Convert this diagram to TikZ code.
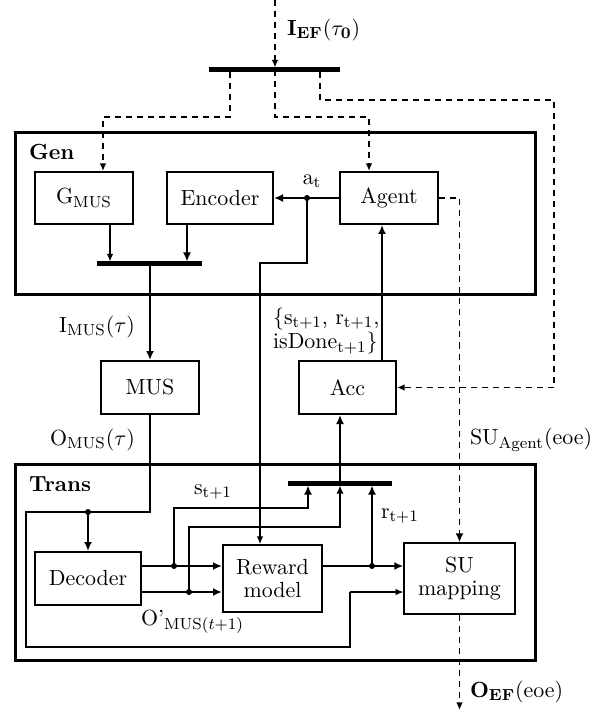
\documentclass[tikz,border=0pt]{standalone}
\usetikzlibrary{arrows.meta,calc}
\newcommand{\fsz}{\fontsize{10.95pt}{13.4pt}\selectfont}
\begin{document}
\begin{tikzpicture}[x=0.5pt,y=-0.5pt,
  every node/.style={font=\fsz},
  box/.style={draw,line width=1pt,inner sep=0pt,align=center},
  lightbox/.style={draw,line width=0.7pt,inner sep=0pt,align=center},
  frame/.style={draw,line width=1.5pt,inner sep=0pt},
  bar/.style={line width=2.5pt},
  thk/.style={line width=1pt,-{Latex[length=4.5pt,width=4pt]}},
  thn/.style={line width=0.65pt,-{Latex[length=3.8pt,width=3.3pt]}},
  plainthk/.style={line width=1pt},
  plainthn/.style={line width=0.65pt},
  dsh/.style={line width=0.75pt,dash pattern=on 3pt off 2.5pt,-{Latex[length=3.8pt,width=3.3pt]}},
  dshthk/.style={line width=0.95pt,dash pattern=on 3pt off 2.5pt,-{Latex[length=4.5pt,width=4pt]}},
  jdot/.style={circle,fill,inner sep=0pt,minimum size=3pt}]
\useasboundingbox (0,0) rectangle (603,710);

% frames
\node[frame,minimum width=260pt,minimum height=81pt] (gen) at (275,214) {};
\node[frame,minimum width=260pt,minimum height=98pt] (trans) at (275,562) {};
\node[anchor=west,font=\fsz\bfseries] (genlbl) at (22,152) {Gen};
\node[anchor=west,font=\fsz\bfseries] (translbl) at (22,484) {Trans};

% boxes
\node[box,minimum width=49pt,minimum height=26pt] (gmus) at (84,198) {$\mathrm{G}_{\mathrm{MUS}}$};
\node[box,minimum width=53pt,minimum height=26pt] (encoder) at (220,198) {Encoder};
\node[box,minimum width=49pt,minimum height=26pt] (agent) at (389,198) {Agent};
\node[box,minimum width=49pt,minimum height=26.5pt] (mus) at (150,387.5) {MUS};
\node[box,minimum width=48.5pt,minimum height=26.5pt] (acc) at (347.5,387.5) {Acc};
\node[box,minimum width=53pt,minimum height=26.5pt] (decoder) at (88,578.5) {Decoder};
\node[box,minimum width=49.5pt,minimum height=33.5pt] (reward) at (272.5,578.5) {Reward\\[-2pt]model};
\node[lightbox,minimum width=55.5pt,minimum height=35.5pt] (su) at (459.5,578.5) {SU\\[-2pt]mapping};

% top input
\coordinate (in) at (275,0);
\coordinate (tbl) at (209,70);
\coordinate (tbr) at (340,70);
\coordinate (tbm) at (275,70);
\draw[bar] (tbl) -- (tbr);
\draw[dsh] (in) -- (275,67.5);
\node[anchor=west] (ief) at (280,30) {$\mathbf{I}_{\mathbf{EF}}(\tau_{\mathbf{0}})$};
\draw[dsh] (230,72) |- (103,117) -- (103,0 |- gmus.north);
\draw[dsh] (tbm) |- (369,117) -- (369,0 |- agent.north);
\draw[dsh] (320,72) |- (554,100) |- (acc.east);

% agent -> SU dashed
\draw[dshthk] (agent.east) -| (su.north);
\node[anchor=west] (sulbl) at (463,440) {$\mathrm{SU}_{\mathrm{Agent}}(\mathrm{eoe})$};
\coordinate (out) at (459.5,710);
\draw[dsh] (su.south) -- (out);
\node[anchor=west] (oef) at (463,692) {$\mathbf{O}_{\mathbf{EF}}(\mathrm{eoe})$};

% a_t
\coordinate (atdot) at (307,198);
\draw[thk] (agent.west) -- (encoder.east);
\node[jdot] at (atdot) {};
\node (atl) at (312,181) {$\mathrm{a}_{\mathrm{t}}$};
\draw[thn] (atdot) |- (260,263) -- (260,0 |- reward.north);

% gen bar
\coordinate (gbl) at (97,264);
\coordinate (gbr) at (202,264);
\draw[bar] (gbl) -- (gbr);
\draw[thn] (110,0 |- gmus.south) -- (110,261.5);
\draw[thk] (187,0 |- encoder.south) -- (187,261.5);
\draw[thk] (150,264) -- (mus.north);
\node[anchor=east] (imus) at (142,327) {$\mathrm{I}_{\mathrm{MUS}}(\tau)$};

% acc -> agent
\draw[thk] (382,0 |- acc.north) -- (382,0 |- agent.south);
\node[anchor=west,align=left] (obs) at (266,331) {$\{\mathrm{s}_{\mathrm{t+1}}$, $\mathrm{r}_{\mathrm{t+1}}$,\\[-1pt] $\mathrm{isDone}_{\mathrm{t+1}}\}$};

% MUS output loop
\coordinate (mdot) at (88,512);
\node[anchor=east] (omus) at (142,440) {$\mathrm{O}_{\mathrm{MUS}}(\tau)$};
\draw[plainthk] (mus.south) |- (mdot);
\draw[plainthn] (mdot) -- (26,512) -- (26,647) -- (350,647) -- (350,592);
\draw[thn] (350,592) -- (su.west |- 0,592);
\node[jdot] at (mdot) {};
\draw[thk] (mdot) -- (decoder.north);

% trans bar
\coordinate (bbl) at (288,483);
\coordinate (bbr) at (392,483);
\draw[bar] (bbl) -- (bbr);
\draw[thk] (340,483) -- (340,0 |- acc.south);

% decoder outputs
\coordinate (d1) at (174,566);
\coordinate (d2) at (189,592);
\coordinate (rdot) at (372,566);
\draw[thk] (decoder.east |- 0,566) -- (reward.west |- 0,566);
\draw[thk] (decoder.east |- 0,592) -- (reward.west |- 0,592);
\draw[thk] (d1) |- (308,508) -- (308,485.5);
\draw[line width=0.75pt,-{Latex[length=4pt,width=3.6pt]}] (d2) |- (340,527) -- (340,485.5);
\draw[thk] (reward.east |- 0,566) -- (su.west |- 0,566);
\draw[thk] (rdot) -- (372,485.5);
\node[jdot] at (d1) {};
\node[jdot] at (d2) {};
\node[jdot] at (rdot) {};

\node (slbl) at (213,492) {$\mathrm{s}_{\mathrm{t+1}}$};
\node (rlbl) at (400,516) {$\mathrm{r}_{\mathrm{t+1}}$};
\node[anchor=west] (opl) at (134,622) {O'$_{\mathrm{MUS}(t+1)}$};
\end{tikzpicture}
\end{document}
